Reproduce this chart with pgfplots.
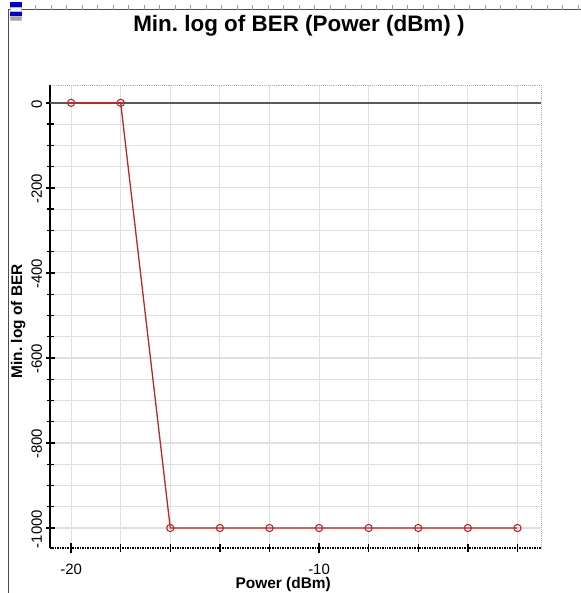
\documentclass[border=0pt]{standalone}
\usepackage{pgfplots}
\pgfplotsset{compat=1.18}
\usepackage{fontspec}
\setmainfont{Liberation Sans}
\definecolor{serred}{RGB}{185,40,40}
\definecolor{gridgray}{RGB}{224,224,224}
\begin{document}
\begin{tikzpicture}
\useasboundingbox (0bp,0bp) rectangle (581bp,593bp);
% outer frame
\draw[black!70, line width=1bp] (8bp,0bp) -- (8bp,583bp) -- (581bp,583bp);
\foreach \i in {0,...,36} {\draw[black!40, line width=0.5bp] (20bp+\i*15.5bp,583bp) -- (20bp+\i*15.5bp,588bp);}
% icon
\fill[gray!50] (10bp,572bp) rectangle (22bp,591bp);
\fill[blue!75!black] (10bp,586bp) rectangle (22bp,591bp);
\fill[blue!75!black] (10bp,577bp) rectangle (22bp,581bp);
\fill[white] (11bp,582bp) rectangle (21bp,585bp);
\fill[gray!70] (11bp,573bp) rectangle (21bp,576bp);
\begin{axis}[
  at={(50bp,45bp)}, anchor=south west,
  scale only axis, width=491bp, height=463bp,
  xmin=-20.85, xmax=-1.05, ymin=-1047, ymax=42,
  xtick={-20,-10}, minor xtick={-18,-16,...,-2},
  ytick={-1000,-800,...,0}, minor ytick={-950,-900,...,-50},
  grid=both,
  major grid style={gridgray, line width=1.1bp},
  minor grid style={gridgray, line width=1.1bp},
  axis line style={draw=none},
  tick align=center,
  major tick length=9bp, minor tick length=7bp,
  every tick/.style={black, line width=1.3bp},
  xtick pos=bottom, ytick pos=left,
  tick label style={font=\fontsize{15}{17}\selectfont},
  xticklabel style={anchor=center, yshift=-17bp},
  yticklabel style={rotate=90, anchor=south, xshift=-1bp},
  /pgf/number format/assume math mode=true,
  /pgf/number format/1000 sep={},
  title={\bfseries Min.\ log of BER (Power (dBm) )},
  title style={font=\fontsize{22.5}{26}\selectfont, at={(axis description cs:0.507,1)}, yshift=53bp, anchor=center},
  xlabel={\bfseries Power (dBm)},
  ylabel={\bfseries Min.\ log of BER},
  label style={font=\fontsize{15.5}{18}\selectfont},
  xlabel style={at={(axis description cs:0.475,0)}, yshift=-37bp, anchor=center},
  ylabel style={at={(axis description cs:-0.065,0.49)}, anchor=center},
  clip=false,
]
\draw[black!30, densely dotted, line width=0.9bp] (rel axis cs:0,1) -- (rel axis cs:1,1) -- (rel axis cs:1,0);
\draw[black, densely dotted, line width=1.5bp] (rel axis cs:0,0) -- (rel axis cs:1,0);
\draw[black, line width=1.6bp] (rel axis cs:0,0) -- (rel axis cs:0,1);
\draw[black!65, line width=2.2bp] (axis cs:-20.85,0) -- (axis cs:-1.05,0);
\pgfplotsinvokeforeach{-20,-18,-16,-14,-12,-10,-8,-6,-4,-2}{\draw[black!80, line width=1.4bp] (axis cs:#1,0) ++(0,-3.5bp) -- ++(0,7bp);}
\addplot[serred, line width=1.3bp, mark=o, mark size=3.6bp, mark options={fill=white, line width=1.1bp}] coordinates {
(-20,0) (-18,0) (-16,-1000) (-14,-1000) (-12,-1000) (-10,-1000) (-8,-1000) (-6,-1000) (-4,-1000) (-2,-1000)
};
\end{axis}
\end{tikzpicture}
\end{document}
